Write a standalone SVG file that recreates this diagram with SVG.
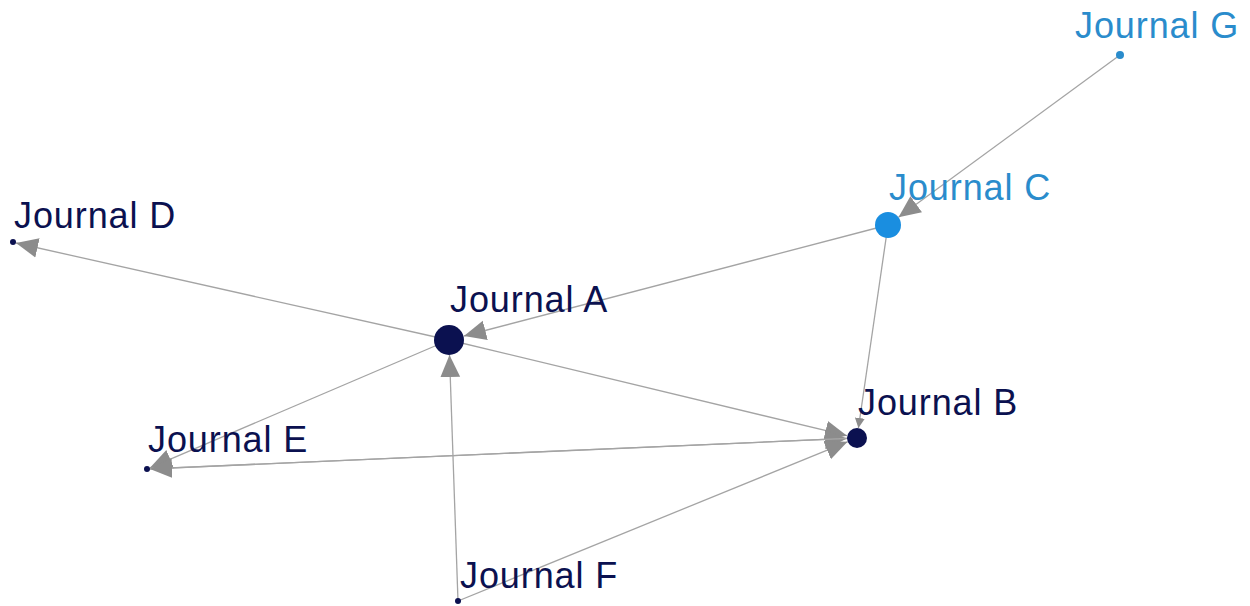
<svg xmlns="http://www.w3.org/2000/svg" width="1250" height="606" viewBox="0 0 1250 606">
<style>
.e{stroke:#a4a4a4;stroke-width:1.3;fill:none;marker-end:url(#ah)}
.es{stroke:#a4a4a4;stroke-width:1.3;fill:none;marker-end:url(#ahs)}
.l{font-family:"Liberation Sans",Arial,sans-serif;font-size:36px;letter-spacing:0.9px}
.dk{fill:#0b1150}
.lb{fill:#2a8ccc}
</style>
<defs>
<marker id="ah" markerUnits="userSpaceOnUse" markerWidth="22" markerHeight="22" viewBox="0 -10 20 20" refX="20" refY="0" orient="auto"><path d="M0,-9 L20,0 L0,9 z" fill="#8c8c8c"/></marker>
<marker id="ahs" markerUnits="userSpaceOnUse" markerWidth="10" markerHeight="10" viewBox="0 -4 8 8" refX="8" refY="0" orient="auto"><path d="M0,-4 L8,0 L0,4 z" fill="#8c8c8c"/></marker>
</defs>
<rect width="1250" height="606" fill="#ffffff"/>
<g id="edges">
<line class="e" x1="449" y1="340" x2="16" y2="243"/>
<line class="e" x1="888" y1="225" x2="464" y2="336"/>
<line class="e" x1="458" y1="601" x2="449.5" y2="355"/>
<line class="e" x1="449" y1="340" x2="847" y2="435.7"/>
<line class="e" x1="147" y1="469" x2="847" y2="438.4"/>
<line class="e" x1="458" y1="601" x2="847.5" y2="441.8"/>
<line class="es" x1="888" y1="225" x2="858.4" y2="428"/>
<line class="e" x1="449" y1="340" x2="150" y2="467.8"/>
<line class="e" x1="857" y1="438" x2="150" y2="468.9"/>
<line class="e" x1="1120" y1="55" x2="898.5" y2="217.3"/>
</g>
<g id="nodeA"><circle cx="449" cy="340" r="15" class="dk"/><text class="l dk" x="450" y="312">Journal A</text></g>
<g id="nodeB"><circle cx="857" cy="438" r="10" class="dk"/><text class="l dk" x="858" y="415">Journal B</text></g>
<g id="nodeC"><circle cx="888" cy="225" r="13" fill="#1a8ee0"/><text class="l lb" x="889" y="200">Journal C</text></g>
<g id="nodeD"><circle cx="13" cy="242" r="3" class="dk"/><text class="l dk" x="14" y="228">Journal D</text></g>
<g id="nodeE"><circle cx="147" cy="469" r="3" class="dk"/><text class="l dk" x="148" y="452">Journal E</text></g>
<g id="nodeF"><circle cx="458" cy="601" r="3" class="dk"/><text class="l dk" x="460" y="588">Journal F</text></g>
<g id="nodeG"><circle cx="1120" cy="55" r="4" fill="#2a8ccc"/><text class="l lb" x="1075" y="38">Journal G</text></g>
</svg>
